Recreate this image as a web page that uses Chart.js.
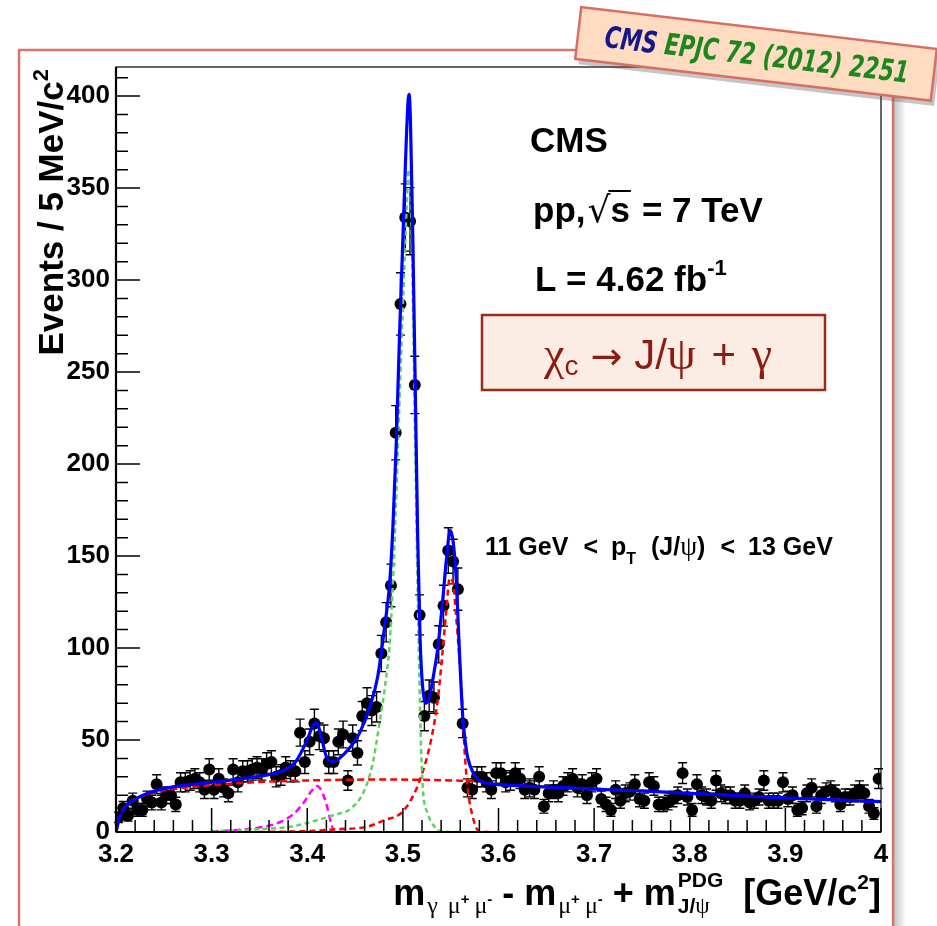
<!DOCTYPE html>
<html>
<head>
<meta charset="utf-8">
<script src="https://cdn.jsdelivr.net/npm/chart.js@4.4.0/dist/chart.umd.min.js"></script>
<style>
  html, body { margin: 0; padding: 0; background: #fff; }
</style>
</head>
<body>
<canvas id="chart" width="937" height="926"></canvas>
<script>
// binned data, 5 MeV bins from 3.2 to 4.0
const binStart = 3.2;
const binWidth = 0.005;
const counts = [
   8, 13,  9, 17, 12, 12, 18, 16, 26, 16, 20, 20, 15, 27, 27, 28, 29, 27, 23, 34,
  23, 29, 24, 21, 34, 27, 33, 33, 34, 35, 34, 37, 38, 30, 31, 35, 33, 33, 54, 38,
  49, 59, 52, 51, 38, 38, 49, 53, 28, 51, 43, 63, 70, 66, 68, 97,114,134,217,287,
 334,332,243,118, 63, 74, 73,102,123,153,147,132, 59, 24, 23, 30, 30, 27, 23, 32,
  32, 27, 28, 32, 29, 23, 24, 23, 30, 14, 21, 23, 21, 25, 27, 29, 24, 26, 20, 27,
  29, 18, 15, 12, 23, 17, 21, 22, 26, 18, 17, 27, 25, 15, 15, 16, 18, 20, 32, 19,
  12, 26, 20, 19, 17, 28, 21, 20, 20, 17, 17, 21, 16, 17, 19, 28, 17, 17, 17, 27,
  18, 20, 12, 13, 21, 24, 14, 20, 22, 23, 21, 15, 19, 19, 21, 23, 21, 14, 10, 29
];

// fit curves
const totalX = [3.2, 3.2005, 3.2035, 3.2087, 3.219, 3.233, 3.254, 3.282, 3.317, 3.352, 3.373, 3.388, 3.399, 3.406, 3.41, 3.4145, 3.42, 3.427, 3.4335, 3.444, 3.4545, 3.465, 3.4737, 3.481, 3.486, 3.4895, 3.493, 3.4965, 3.5, 3.503, 3.5055, 3.5065, 3.508, 3.5105, 3.513, 3.5155, 3.518, 3.5205, 3.5243, 3.528, 3.532, 3.5365, 3.5415, 3.5455, 3.5495, 3.5525, 3.5555, 3.559, 3.5605, 3.5627, 3.5655, 3.568, 3.5738, 3.58, 3.59, 3.6, 3.65, 3.7, 3.75, 3.8, 3.85, 3.9, 3.95, 4.0];
const totalY = [0, 1, 7.6, 13, 17.4, 21, 24, 26, 28, 30.5, 33, 38.3, 49, 57.6, 59.5, 52, 41, 38.3, 40, 45.5, 53.6, 67.3, 84.5, 112, 134, 165, 210, 270, 322, 368, 398, 401, 385, 320, 240, 160, 105, 80, 70, 74, 85, 100, 125, 148, 164, 158, 140, 100, 83, 62, 48, 40, 32, 28, 26.3, 25.8, 24.5, 23.3, 22.3, 21, 19.8, 18.5, 17.5, 16.5];

const bkgX = [3.2, 3.2015, 3.204, 3.208, 3.215, 3.225, 3.24, 3.26, 3.29, 3.33, 3.37, 3.42, 3.47, 3.52, 3.56, 3.58, 3.59, 3.6, 3.65, 3.7, 3.75, 3.8, 3.85, 3.9, 3.95, 4.0];
const bkgY = [0, 5, 9.5, 13, 16.5, 19, 21.5, 23.3, 25, 26.6, 27.6, 28.2, 28.5, 28.4, 27.9, 27.6, 26.3, 25.8, 24.5, 23.3, 22.3, 21, 19.8, 18.5, 17.5, 16.5];

const chic1X = [3.3, 3.35, 3.383, 3.411, 3.428, 3.446, 3.46, 3.4685, 3.4755, 3.481, 3.4865, 3.4915, 3.4965, 3.5005, 3.504, 3.506, 3.508, 3.5105, 3.513, 3.5155, 3.5173, 3.519, 3.521, 3.526, 3.533, 3.54, 3.56];
const chic1Y = [0.3, 1.5, 2.9, 6.5, 9.3, 12.9, 22.9, 37.4, 59, 78, 105, 160, 235, 292, 340, 360, 350, 288, 205, 130, 83, 46, 23, 10, 3, 0.3, 0];

const chic2X = [3.35, 3.40, 3.43, 3.463, 3.481, 3.498, 3.509, 3.519, 3.5295, 3.5365, 3.541, 3.545, 3.549, 3.5525, 3.556, 3.559, 3.5615, 3.5643, 3.568, 3.573, 3.58, 3.59];
const chic2Y = [0, 0.5, 1.5, 2.9, 6.5, 10.2, 18, 30, 50, 72, 95, 118, 138, 135, 115, 95, 75, 46, 23, 8.3, 0.3, 0];

const chic0X = [3.3, 3.33, 3.355, 3.3726, 3.3865, 3.397, 3.404, 3.4103, 3.4162, 3.4207, 3.425, 3.4284, 3.44];
const chic0Y = [0.3, 1.2, 2.9, 5.6, 10.2, 16.5, 22, 25, 21, 13.8, 4.7, 0.3, 0];

// axis ticks
const xMajorTicks = [3.2, 3.3, 3.4, 3.5, 3.6, 3.7, 3.8, 3.9, 4.0];
const xTickLabels = ['3.2', '3.3', '3.4', '3.5', '3.6', '3.7', '3.8', '3.9', '4'];
const yMajorTicks = [0, 50, 100, 150, 200, 250, 300, 350, 400];
const yTickLabels = ['0', '50', '100', '150', '200', '250', '300', '350', '400'];

const binCenters = counts.map((_, i) => binStart + (i + 0.5) * binWidth);
const toPts = (xs, ys) => xs.map((x, i) => ({ x: x, y: ys[i] }));

const SANS = '"Liberation Sans", Arial, Helvetica, sans-serif';
const SERIF = '"Liberation Serif", "DejaVu Serif", serif';

function rich(c, x, y, parts, align) {
  let w = 0;
  parts.forEach(p => {
    c.font = p.f;
    p.w = p.adv !== undefined ? p.adv : c.measureText(p.t).width;
    w += p.w + (p.gap || 0);
  });
  let cx = align === 'right' ? x - w : (align === 'center' ? x - w / 2 : x);
  const pos = [];
  parts.forEach(p => {
    c.font = p.f;
    c.fillStyle = p.c || '#000';
    c.fillText(p.t, cx, y + (p.dy || 0));
    pos.push([cx, cx + c.measureText(p.t).width]);
    cx += p.w + (p.gap || 0);
  });
  return pos;
}

const rootStyle = {
  id: 'rootStyle',
  beforeDraw(chart) {
    const c = chart.ctx;
    c.save();
    c.fillStyle = '#fff';
    c.fillRect(0, 0, chart.width, chart.height);
    // pad shadow + pinkish border
    const g = c.createLinearGradient(894, 0, 906, 0);
    g.addColorStop(0, 'rgba(120,120,120,0.45)');
    g.addColorStop(1, 'rgba(120,120,120,0)');
    c.fillStyle = g;
    c.fillRect(894, 56, 12, 900);
    c.strokeStyle = '#d4756e';
    c.lineWidth = 2.5;
    c.strokeRect(19, 50, 874, 920);
    c.restore();
  },
  beforeDatasetsDraw(chart) {
    const c = chart.ctx, xs = chart.scales.x, ys = chart.scales.y;
    c.save();
    c.strokeStyle = '#000';
    c.lineWidth = 1.4;
    counts.forEach((n, i) => {
      const px = xs.getPixelForValue(binCenters[i]);
      const e = Math.sqrt(n);
      const t = ys.getPixelForValue(n + e), b = ys.getPixelForValue(Math.max(n - e, 0));
      c.beginPath();
      c.moveTo(px, t); c.lineTo(px, b);
      c.moveTo(px - 4.5, t); c.lineTo(px + 4.5, t);
      c.moveTo(px - 4.5, b); c.lineTo(px + 4.5, b);
      c.stroke();
    });
    c.restore();
  },
  afterDatasetsDraw(chart) {
    const c = chart.ctx, xs = chart.scales.x, ys = chart.scales.y, a = chart.chartArea;
    c.save();
    // frame
    c.strokeStyle = '#000';
    c.lineWidth = 1.2;
    c.strokeRect(a.left, a.top, a.right - a.left, a.bottom - a.top);
    c.lineWidth = 2.2;
    c.beginPath(); c.moveTo(a.left, a.bottom); c.lineTo(a.right, a.bottom); c.stroke();
    c.beginPath(); c.moveTo(a.left, a.bottom); c.lineTo(a.left, a.top); c.stroke();
    // ticks
    c.lineWidth = 1.5;
    c.beginPath();
    for (let k = 0; k <= 40; k++) {
      const px = xs.getPixelForValue(3.2 + k * 0.02);
      const len = k % 5 === 0 ? 24 : 12;
      c.moveTo(px, a.bottom); c.lineTo(px, a.bottom - len);
    }
    for (let v = 0; v <= 410; v += 10) {
      const py = ys.getPixelForValue(v);
      const len = v % 50 === 0 ? 24 : 12;
      c.moveTo(a.left, py); c.lineTo(a.left + len, py);
    }
    c.stroke();
    // tick labels
    c.fillStyle = '#000';
    c.font = 'bold 26px ' + SANS;
    c.textAlign = 'center';
    c.textBaseline = 'top';
    xMajorTicks.forEach((v, i) => c.fillText(xTickLabels[i], xs.getPixelForValue(v), a.bottom + 10));
    c.textAlign = 'right';
    c.textBaseline = 'middle';
    yMajorTicks.forEach((v, i) => c.fillText(yTickLabels[i], a.left - 6, ys.getPixelForValue(v)));
    c.textAlign = 'left';
    c.textBaseline = 'alphabetic';

    // y title
    c.save();
    const yParts = [
      { t: 'Events / 5 MeV/c', f: 'bold 35px ' + SANS },
      { t: '2', f: 'bold 22px ' + SANS, dy: -15 }
    ];
    let yw = 0;
    yParts.forEach(p => { c.font = p.f; yw += c.measureText(p.t).width; });
    c.translate(63, 69 + yw);
    c.rotate(-Math.PI / 2);
    rich(c, 0, 0, yParts, 'left');
    c.restore();

    // x title
    const B = 'bold 36px ' + SANS, G = '24px ' + SERIF, SB = 'bold 15px ' + SANS, SS = 'bold 21px ' + SANS;
    c.font = SS;
    const pdgW = c.measureText('PDG').width;
    const jW = c.measureText('J/').width;
    c.font = '23px ' + SERIF;
    const psiW = c.measureText('ψ').width;
    rich(c, 881, 905, [
      { t: 'm', f: B, gap: 2 },
      { t: 'γ', f: G, dy: 8, gap: 10 },
      { t: 'μ', f: G, dy: 8 },
      { t: '+', f: SB, dy: -1, gap: 5 },
      { t: 'μ', f: G, dy: 8 },
      { t: '-', f: SB, dy: -1, gap: 10 },
      { t: '- m', f: B, gap: 2 },
      { t: 'μ', f: G, dy: 8 },
      { t: '+', f: SB, dy: -1, gap: 5 },
      { t: 'μ', f: G, dy: 8 },
      { t: '-', f: SB, dy: -1, gap: 10 },
      { t: '+ m', f: B, gap: 2 },
      { t: 'PDG', f: SS, dy: -18, adv: 0 },
      { t: 'J/', f: SS, dy: 8 },
      { t: 'ψ', f: '23px ' + SERIF, dy: 8, adv: Math.max(psiW, pdgW - jW) },
      { t: '  [GeV/c', f: B },
      { t: '2', f: SS, dy: -16 },
      { t: ']', f: B }
    ], 'right');

    // CMS labels
    c.font = 'bold 35px ' + SANS;
    c.fillText('CMS', 530, 152);
    const pos = rich(c, 533, 222, [
      { t: 'pp,', f: 'bold 35px ' + SANS, gap: 2 },
      { t: '√', f: '36px "DejaVu Sans", sans-serif' },
      { t: 's', f: 'bold 35px ' + SANS, gap: 12 },
      { t: '= 7 TeV', f: 'bold 35px ' + SANS }
    ], 'left');
    c.lineWidth = 2;
    c.beginPath();
    c.moveTo(pos[1][1] - 2, 191); c.lineTo(pos[2][1] + 1, 191);
    c.stroke();
    rich(c, 535, 291, [
      { t: 'L = 4.62 fb', f: 'bold 35px ' + SANS },
      { t: '-1', f: 'bold 22px ' + SANS, dy: -16 }
    ], 'left');

    // decay box
    c.fillStyle = '#fbede4';
    c.fillRect(482, 315, 343, 75);
    c.strokeStyle = '#9a2a1a';
    c.lineWidth = 2.5;
    c.strokeRect(482, 315, 343, 75);
    const R = '#8c1b13';
    rich(c, 658, 369, [
      { t: 'χ', f: '46px ' + SERIF, c: R },
      { t: 'c', f: '28px ' + SANS, c: R, dy: 6, gap: 12 },
      { t: '→', f: '38px "DejaVu Sans", sans-serif', c: R, gap: 12 },
      { t: 'J/', f: '42px ' + SANS, c: R },
      { t: 'ψ', f: '46px ' + SERIF, c: R, gap: 4 },
      { t: ' + ', f: '42px ' + SANS, c: R, gap: 4 },
      { t: 'γ', f: '46px ' + SERIF, c: R }
    ], 'center');

    // pT bin
    const P = 'bold 25px ' + SANS;
    rich(c, 485, 555, [
      { t: '11 GeV', f: P, gap: 15 },
      { t: '<', f: P, gap: 13 },
      { t: 'p', f: P },
      { t: 'T', f: 'bold 16px ' + SANS, dy: 9, gap: 15 },
      { t: '(J/', f: P },
      { t: 'ψ', f: '27px ' + SERIF },
      { t: ')', f: P, gap: 15 },
      { t: '<', f: P, gap: 13 },
      { t: '13 GeV', f: P }
    ], 'left');
    c.restore();
  },
  afterDraw(chart) {
    // journal stamp
    const c = chart.ctx;
    c.save();
    c.translate(757, 54);
    c.rotate(6.7 * Math.PI / 180);
    c.fillStyle = 'rgba(90,90,90,0.35)';
    c.fillRect(-176, -21, 358, 52);
    c.fillStyle = '#fddcc2';
    c.fillRect(-180, -26, 358, 52);
    c.strokeStyle = '#d86d62';
    c.lineWidth = 2.5;
    c.strokeRect(-180, -26, 358, 52);
    const F = 'italic bold 30px "DejaVu Sans Condensed", "DejaVu Sans", sans-serif';
    c.font = F;
    const w1 = c.measureText('CMS ').width, w2 = c.measureText('EPJC 72 (2012) 2251').width;
    const sx = 306 / (w1 + w2);
    c.scale(sx, 1);
    const x0 = -(w1 + w2) / 2;
    c.fillStyle = '#16168a';
    c.fillText('CMS ', x0, 11);
    c.fillStyle = '#1f861f';
    c.fillText('EPJC 72 (2012) 2251', x0 + w1, 11);
    c.restore();
  }
};

const curve = (xs, ys, color, width, dash, order) => ({
  data: toPts(xs, ys),
  showLine: true,
  borderColor: color,
  borderWidth: width,
  borderDash: dash,
  pointRadius: 0,
  cubicInterpolationMode: 'monotone',
  fill: false,
  order: order
});

new Chart(document.getElementById('chart').getContext('2d'), {
  type: 'scatter',
  data: {
    datasets: [
      curve(totalX, totalY, '#0000ff', 3.2, [], 0),
      curve(bkgX, bkgY, '#ff0000', 2.5, [7, 4], 1),
      curve(chic1X, chic1Y, '#5fd35f', 2.5, [5, 3.5], 2),
      curve(chic2X, chic2Y, '#ff0000', 2.5, [6, 4], 3),
      curve(chic0X, chic0Y, '#ff00ff', 2.5, [7, 4], 4),
      {
        data: toPts(binCenters, counts),
        showLine: false,
        pointRadius: 6,
        pointBackgroundColor: '#000',
        pointBorderColor: '#000',
        pointBorderWidth: 0,
        order: 10
      }
    ]
  },
  options: {
    responsive: false,
    animation: false,
    devicePixelRatio: 1,
    layout: { padding: { left: 116, right: 56, top: 67, bottom: 94 } },
    plugins: { legend: { display: false }, tooltip: { enabled: false } },
    scales: {
      x: { type: 'linear', min: 3.2, max: 4.0, display: false },
      y: { type: 'linear', min: 0, max: 415.8, display: false }
    }
  },
  plugins: [rootStyle]
});
</script>
</body>
</html>
